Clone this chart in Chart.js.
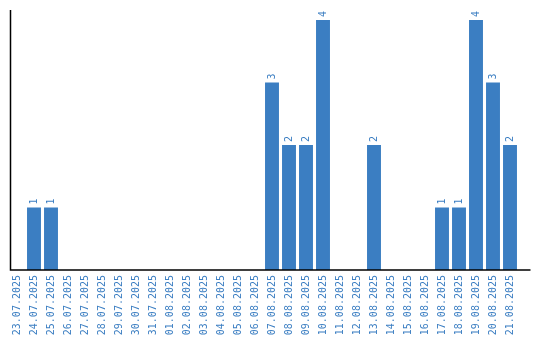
<!DOCTYPE html>
<html>
<head>
<meta charset="utf-8">
<script src="https://cdn.jsdelivr.net/npm/chart.js@4"></script>
<style>
  html, body { margin: 0; padding: 0; background: #fff; }
  #wrap { width: 540px; height: 340px; }
</style>
</head>
<body>
<div id="wrap"><canvas id="chart" width="540" height="340"></canvas></div>
<script>
const dates = [
  "23.07.2025", "24.07.2025", "25.07.2025", "26.07.2025", "27.07.2025",
  "28.07.2025", "29.07.2025", "30.07.2025", "31.07.2025", "01.08.2025",
  "02.08.2025", "03.08.2025", "04.08.2025", "05.08.2025", "06.08.2025",
  "07.08.2025", "08.08.2025", "09.08.2025", "10.08.2025", "11.08.2025",
  "12.08.2025", "13.08.2025", "14.08.2025", "15.08.2025", "16.08.2025",
  "17.08.2025", "18.08.2025", "19.08.2025", "20.08.2025", "21.08.2025"
];
const counts = [
  0, 1, 1, 0, 0,
  0, 0, 0, 0, 0,
  0, 0, 0, 0, 0,
  3, 2, 2, 4, 0,
  0, 2, 0, 0, 0,
  1, 1, 4, 3, 2
];
const yMax = 4.16;

const blue = "#3b7ec2";
const monoFont = { family: "'DejaVu Sans Mono', monospace", size: 10 };

// axis lines + rotated value labels
const decorations = {
  id: "decorations",
  afterDatasetsDraw(chart) {
    const ctx = chart.ctx;
    const area = chart.chartArea;
    ctx.save();
    ctx.strokeStyle = "#000";
    ctx.lineWidth = 1.5;
    ctx.beginPath();
    ctx.moveTo(area.left + 2, area.top);
    ctx.lineTo(area.left + 2, area.bottom);
    ctx.lineTo(area.right + 12, area.bottom);
    ctx.stroke();

    const meta = chart.getDatasetMeta(0);
    ctx.fillStyle = blue;
    ctx.font = monoFont.size + "px " + monoFont.family;
    ctx.textAlign = "left";
    ctx.textBaseline = "middle";
    meta.data.forEach((bar, i) => {
      if (!counts[i]) return;
      ctx.save();
      ctx.translate(bar.x, bar.y - 3);
      ctx.rotate(-Math.PI / 2);
      ctx.fillText(String(counts[i]), 0, 0);
      ctx.restore();
    });
    ctx.restore();
  }
};

new Chart(document.getElementById("chart"), {
  type: "bar",
  data: {
    labels: dates,
    datasets: [{
      data: counts,
      backgroundColor: blue,
      borderWidth: 0,
      barPercentage: 0.82,
      categoryPercentage: 1.0
    }]
  },
  options: {
    responsive: false,
    animation: false,
    layout: { padding: { left: 8.5, right: 21.5, top: 10, bottom: 0 } },
    plugins: { legend: { display: false }, tooltip: { enabled: false } },
    scales: {
      x: {
        grid: { display: false, drawTicks: false },
        border: { display: false },
        ticks: {
          color: blue,
          font: monoFont,
          minRotation: 90,
          maxRotation: 90,
          autoSkip: false,
          padding: 5
        },
        afterFit(scale) { scale.height = 70; }
      },
      y: {
        display: false,
        min: 0,
        max: yMax
      }
    }
  },
  plugins: [decorations]
});
</script>
</body>
</html>
